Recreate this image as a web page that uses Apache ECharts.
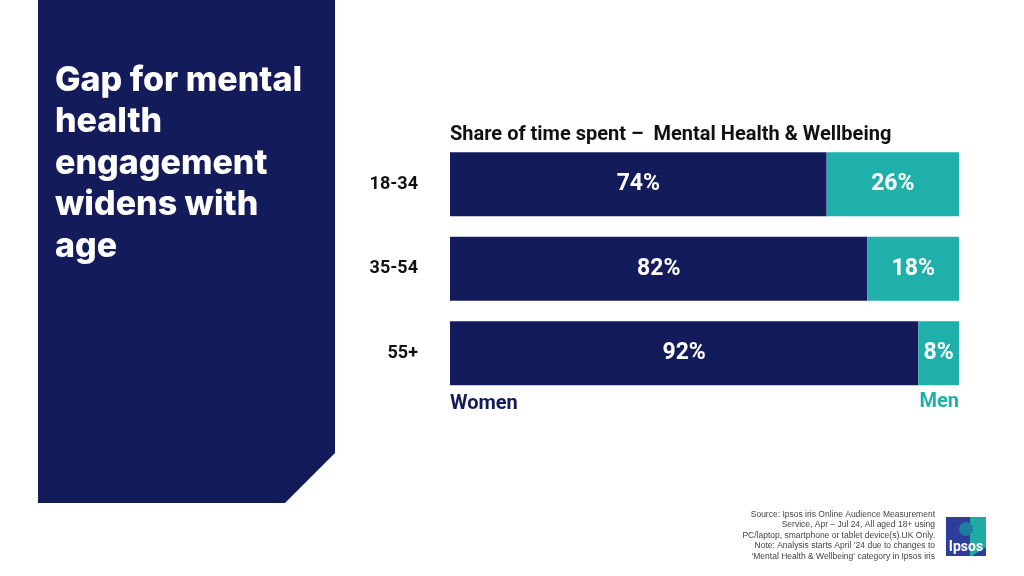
<!DOCTYPE html>
<html>
<head>
<meta charset="utf-8">
<script src="https://cdn.jsdelivr.net/npm/echarts@6/dist/echarts.min.js"></script>
<style>
html,body{margin:0;padding:0;background:#fff;}
#c{width:1024px;height:576px;}
</style>
</head>
<body>
<div id="c"></div>
<script>
const categories = ['18-34', '35-54', '55+'];
const women = [74, 82, 92];
const men = [26, 18, 8];
const seriesNames = ['Women', 'Men'];
const chartTitle = 'Share of time spent \u2013  Mental Health & Wellbeing';
const headline = 'Gap for mental\nhealth\nengagement\nwidens with\nage';
const sourceLines = [
  'Source: Ipsos iris Online Audience Measurement',
  'Service, Apr \u2013 Jul 24, All aged 18+ using',
  'PC/laptop, smartphone or tablet device(s).UK Only.',
  'Note: Analysis starts April \u201924 due to changes to',
  '\u2018Mental Health & Wellbeing\u2019 category in Ipsos iris'
];

const NAVY = '#141b5a';
const TEAL = '#20b0ab';
const FONT = 'Roboto, "Noto Sans", sans-serif';

const chart = echarts.init(document.getElementById('c'), null, {renderer: 'canvas'});

const option = {
  backgroundColor: '#ffffff',
  animation: false,
  grid: {left: 450, right: 65, top: 142, height: 253.5, containLabel: false},
  xAxis: {type: 'value', min: 0, max: 100, show: false},
  yAxis: {
    type: 'category', data: categories, inverse: true,
    axisLine: {show: false}, axisTick: {show: false}, splitLine: {show: false},
    axisLabel: {margin: 32, color: '#111', fontFamily: FONT, fontWeight: 'bold', fontSize: 18, padding: [6, 0, 0, 0]}
  },
  series: [
    {
      name: seriesNames[0], type: 'bar', stack: 'total', data: women, barWidth: 64,
      itemStyle: {color: NAVY},
      label: {show: true, position: 'inside', formatter: '{c}%', color: '#fff', fontFamily: FONT, fontWeight: 'bold', fontSize: 23}
    },
    {
      name: seriesNames[1], type: 'bar', stack: 'total', data: men, barWidth: 64,
      itemStyle: {color: TEAL},
      label: {show: true, position: 'inside', formatter: '{c}%', color: '#fff', fontFamily: FONT, fontWeight: 'bold', fontSize: 23}
    }
  ],
  graphic: [
    {
      type: 'polygon', z: 0,
      shape: {points: [[38, 0], [335, 0], [335, 453], [285, 503], [38, 503]]},
      style: {fill: NAVY}
    },
    {
      type: 'text', left: 55, top: 60, z: 5,
      style: {text: headline, fill: '#fff', font: '800 34px Inter, Roboto, sans-serif', lineHeight: 41.5}
    },
    {
      type: 'text', left: 450, top: 125, z: 5,
      style: {text: chartTitle, fill: '#111', font: 'bold 20px ' + FONT}
    },
    {
      type: 'text', left: 450, top: 394, z: 5,
      style: {text: seriesNames[0], fill: NAVY, font: 'bold 20px ' + FONT}
    },
    {
      type: 'text', right: 65, top: 392, z: 5,
      style: {text: seriesNames[1], fill: TEAL, font: 'bold 20px ' + FONT, textAlign: 'right'}
    },
    {
      type: 'text', right: 1024 - 935, top: 509, z: 5,
      style: {text: sourceLines.join('\n'), fill: '#444', font: '8.5px "Liberation Sans", Arial, sans-serif', lineHeight: 10.5, textAlign: 'right'}
    },
    {
      type: 'group', left: 946, top: 517, z: 5,
      children: [
        {type: 'rect', shape: {x: 0, y: 0, width: 40, height: 39}, style: {fill: '#2c3d9c'}},
        {type: 'polygon', shape: {points: [[24, 0], [40, 0], [40, 30], [26, 39], [24, 39]]}, style: {fill: '#1faaa3'}},
        {type: 'circle', shape: {cx: 20, cy: 12, r: 7}, style: {fill: '#1b7fa0'}},
        {type: 'text', style: {text: 'Ipsos', x: 20, y: 30, fill: '#fff', font: 'bold 14px ' + FONT, textAlign: 'center', textVerticalAlign: 'middle'}}
      ]
    }
  ]
};
chart.setOption(option);
</script>
</body>
</html>
